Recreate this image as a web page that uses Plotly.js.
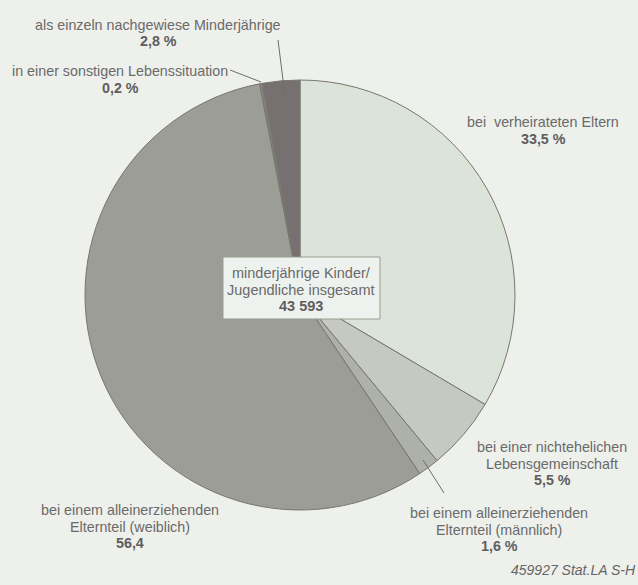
<!DOCTYPE html>
<html><head><meta charset="utf-8">
<script src="https://cdn.plot.ly/plotly-3.0.1.min.js"></script>
<style>html,body{margin:0;padding:0;background:#eef0ec;}</style>
</head><body>
<div id="chart" style="width:638px;height:585px;"></div>
<script>
const categories = [
  "bei verheirateten Eltern",
  "bei einer nichtehelichen Lebensgemeinschaft",
  "bei einem alleinerziehenden Elternteil (männlich)",
  "bei einem alleinerziehenden Elternteil (weiblich)",
  "in einer sonstigen Lebenssituation",
  "als einzeln nachgewiese Minderjährige"
];
const values = [33.5, 5.5, 1.6, 56.4, 0.2, 2.8];
const valueLabels = ["33,5 %", "5,5 %", "1,6 %", "56,4", "0,2 %", "2,8 %"];
const labelLines = [
  ["bei  verheirateten Eltern"],
  ["bei einer nichtehelichen", "Lebensgemeinschaft"],
  ["bei einem alleinerziehenden", "Elternteil (männlich)"],
  ["bei einem alleinerziehenden", "Elternteil (weiblich)"],
  ["in einer sonstigen Lebenssituation"],
  ["als einzeln nachgewiese Minderjährige"]
];
const totalLabel = ["minderjährige Kinder/", "Jugendliche insgesamt"];
const totalValue = "43 593";
const sourceNote = "459927 Stat.LA S-H";

const colors = ["#dce4da", "#c6c9c1", "#aeb1a9", "#9b9d96", "#85837d", "#767170"];

const W = 638, H = 585;
const px = x => x / W, py = y => 1 - y / H;
const FONT = 'Liberation Sans, Arial, sans-serif';
const LS = 16.5;

// label anchor positions (pixels, centre x / first line y) – layout only
const labelPos = [
  [543, 122], [552, 447], [499, 513], [130, 510], [120, 71], [158, 25]
];

const annotations = [];
function addBlock(cx, y0, lines, bold, size, color) {
  const all = lines.concat([bold]);
  all.forEach((t, k) => {
    annotations.push({
      x: px(cx), y: py(y0 + k * LS), xref: 'paper', yref: 'paper',
      xanchor: 'center', yanchor: 'middle', showarrow: false,
      text: k === all.length - 1 ? '<b>' + t + '</b>' : t,
      font: {family: FONT, size: size, color: k === all.length - 1 ? '#5e5e5e' : color}
    });
  });
}
categories.forEach((c, i) => addBlock(labelPos[i][0], labelPos[i][1], labelLines[i], valueLabels[i], 14.3, '#6a6a6a'));
addBlock(301, 273, totalLabel, totalValue, 14.5, '#6a6a6a');
annotations.push({
  x: 1.0, y: py(570), xref: 'paper', yref: 'paper',
  xanchor: 'right', yanchor: 'middle', showarrow: false,
  text: '<i>' + sourceNote + '</i>',
  font: {family: FONT, size: 14, color: '#666'}
});

const leaderLines = [
  [278, 40, 285, 96],
  [230, 70, 261, 82],
  [423, 460, 444, 493]
];
const shapes = leaderLines.map(l => ({
  type: 'line', xref: 'paper', yref: 'paper',
  x0: px(l[0]), y0: py(l[1]), x1: px(l[2]), y1: py(l[3]),
  line: {color: '#6e6e68', width: 1}
}));
shapes.push({
  type: 'rect', xref: 'paper', yref: 'paper',
  x0: px(223), x1: px(380), y0: py(319), y1: py(257),
  fillcolor: '#eef2ee', line: {color: '#9a9a92', width: 1}
});

const data = [{
  type: 'pie',
  labels: categories,
  values: values,
  sort: false,
  direction: 'clockwise',
  rotation: 0,
  textinfo: 'none',
  hoverinfo: 'label+percent',
  marker: {colors: colors, line: {color: '#77776f', width: 1}},
  domain: {x: [px(85), px(515)], y: [py(510), py(80)]},
  showlegend: false
}];

const layout = {
  width: W, height: H,
  margin: {l: 0, r: 0, t: 0, b: 0},
  paper_bgcolor: '#eef0ec',
  plot_bgcolor: '#eef0ec',
  annotations: annotations,
  shapes: shapes,
  showlegend: false
};

Plotly.newPlot('chart', data, layout, {displayModeBar: false, staticPlot: true});
</script>
</body></html>
